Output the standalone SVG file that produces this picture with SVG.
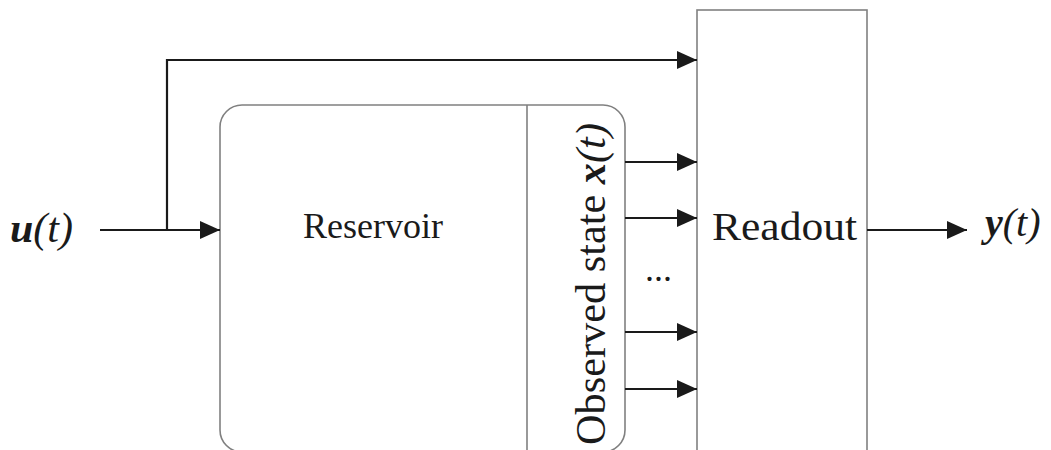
<svg xmlns="http://www.w3.org/2000/svg" width="1051" height="450" viewBox="0 0 1051 450">
<defs>
<marker id="ah" markerUnits="userSpaceOnUse" markerWidth="22" markerHeight="20" refX="20" refY="9" orient="auto">
<path d="M0,0 L20,9 L0,18 Z" fill="#1a1a1a"/>
</marker>
<style>
.box{fill:#fff;stroke:#808080;stroke-width:1.6}
.ln{fill:none;stroke:#1a1a1a;stroke-width:2.2}
.t{fill:#1a1a1a;font-family:'Liberation Serif','DejaVu Serif','Noto Serif',serif}
.bi{font-weight:bold;font-style:italic}
.i{font-style:italic}
</style>
</defs>
<rect width="1051" height="450" fill="#fff"/>
<g id="reservoir">
<rect class="box" x="220" y="105" width="405" height="347" rx="22" ry="22"/>
<text class="t" x="303" y="238" font-size="36">Reservoir</text>
</g>
<g id="observed-state">
<line class="box" x1="527" y1="105" x2="527" y2="452"/>
<text class="t" transform="translate(605,445) rotate(-90)" font-size="42" textLength="322" lengthAdjust="spacingAndGlyphs">Observed state <tspan class="bi">x</tspan><tspan class="i">(t)</tspan></text>
</g>
<g id="readout">
<rect class="box" x="697" y="10" width="170" height="460"/>
<text class="t" x="712" y="240" font-size="41" textLength="145" lengthAdjust="spacingAndGlyphs">Readout</text>
</g>
<g id="input">
<text class="t" x="10" y="242" font-size="42"><tspan class="bi">u</tspan><tspan class="i">(t)</tspan></text>
</g>
<g id="output">
<text class="t" x="985" y="236" font-size="40"><tspan class="bi">y</tspan><tspan class="i">(t)</tspan></text>
</g>
<g id="connectors">
<path class="ln" d="M100,230 H220" marker-end="url(#ah)"/>
<path class="ln" d="M167,230 V60 H697" marker-end="url(#ah)"/>
<path class="ln" d="M625,162 H697" marker-end="url(#ah)"/>
<path class="ln" d="M625,218 H697" marker-end="url(#ah)"/>
<path class="ln" d="M625,332 H697" marker-end="url(#ah)"/>
<path class="ln" d="M625,389 H697" marker-end="url(#ah)"/>
<path class="ln" d="M867,230 H967" marker-end="url(#ah)"/>
<text class="t" x="645" y="281" font-size="36">...</text>
</g>
</svg>
